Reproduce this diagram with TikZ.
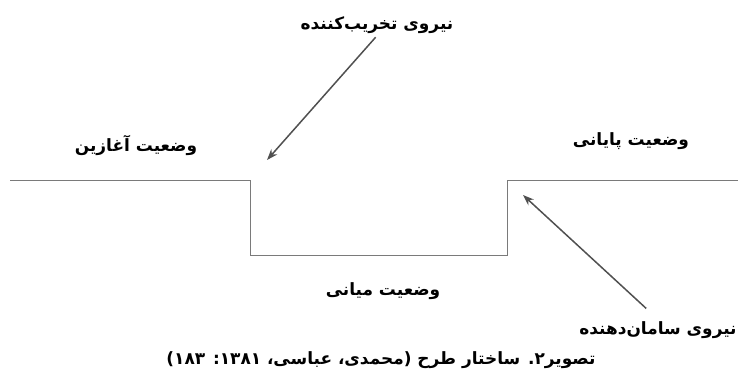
\documentclass[tikz,border=0pt]{standalone}
\usepackage{fontspec}
\newfontfamily\arabicfont[Script=Arabic]{DejaVu Sans}
\TeXXeTstate=1
\usepackage{tikz}
\usetikzlibrary{
  arrows.meta,
  positioning
}
\definecolor{stepgray}{HTML}{7A7A7A}
\definecolor{forcegray}{HTML}{505050}

\begin{document}
\begin{tikzpicture}[
  x=1bp, y=-1bp,
  lbl/.style={font={\arabicfont\bfseries\fontsize{17}{19}\selectfont}, inner sep=2pt},
  arrow/.style={-{Stealth[length=11bp, width=8bp]}, forcegray, line width=1.5bp},
  stepline/.style={stepgray, line width=1bp}
]
  \useasboundingbox (0,0) rectangle (738,378);

  % --- Plot line ---
  \coordinate (lstart) at (10,180);
  \coordinate (dropl) at (250.5,180);
  \coordinate (botl) at (250.5,255);
  \coordinate (botr) at (507.5,255);
  \coordinate (riser) at (507.5,180);
  \coordinate (lend) at (738,180);
  \draw[stepline] (lstart) -- (dropl) -- (botl) -- (botr) -- (riser) -- (lend);

  % --- States ---
  \node[lbl] (initial) at (136,145) {\beginR وضعیت آغازین\endR};
  \node[lbl] (final) at (631,141) {\beginR وضعیت پایانی\endR};
  \node[lbl] (middle) at (383,291) {\beginR وضعیت میانی\endR};

  % --- Forces ---
  \node[lbl] (destroy) at (377,25) {\beginR نیروی تخریب‌کننده\endR};
  \node[lbl] (restore) at (658,330) {\beginR نیروی سامان‌دهنده\endR};
  \coordinate (hitdown) at (267,160);
  \coordinate (hitup) at (523,195);
  \draw[arrow, shorten <=2bp] (destroy.south) -- (hitdown);
  \draw[arrow, shorten <=16bp] (restore.north) -- (hitup);

  % --- Caption ---
  \node[lbl] (caption) at (381,360)
    {\beginR تصویر۲. ساختار طرح (محمدی، عباسی، \beginL ۱۳۸۱\endL: \beginL ۱۸۳\endL)\endR};
\end{tikzpicture}
\end{document}
